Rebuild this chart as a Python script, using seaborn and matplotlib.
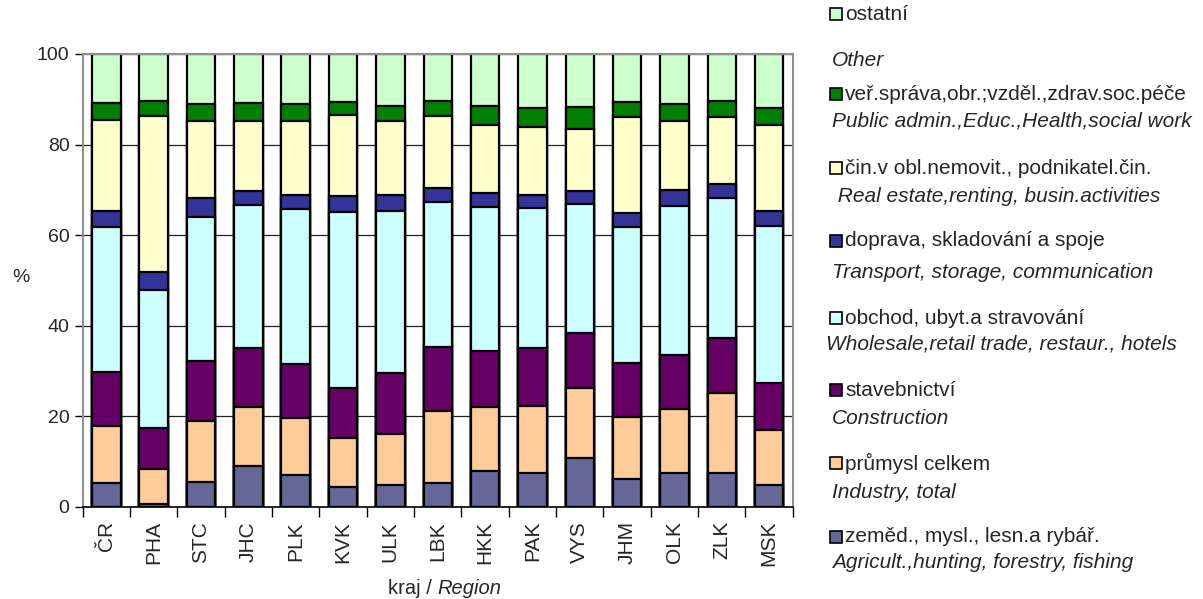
import numpy as np
import pandas as pd
import matplotlib
matplotlib.use('Agg')
import matplotlib.pyplot as plt
from matplotlib.patches import Rectangle
import seaborn as sns

regions = ['ČR', 'PHA', 'STC', 'JHC', 'PLK', 'KVK', 'ULK', 'LBK',
           'HKK', 'PAK', 'VYS', 'JHM', 'OLK', 'ZLK', 'MSK']

# podíly odvětví v % (zdola nahoru)
agric = [5.4, 0.6, 5.5, 9.0, 7.1, 4.4, 4.9, 5.2, 7.9, 7.5, 10.9, 6.1, 7.6, 7.5, 4.8]
industry = [12.5, 7.7, 13.4, 13.1, 12.6, 10.9, 11.3, 16.0, 14.2, 14.8, 15.3, 13.8, 14.0, 17.7, 12.3]
construction = [11.8, 9.2, 13.4, 12.9, 11.8, 11.0, 13.4, 14.2, 12.3, 12.7, 12.1, 11.8, 11.9, 12.0, 10.3]
trade = [32.2, 30.4, 31.6, 31.7, 34.2, 38.9, 35.8, 32.0, 31.9, 30.9, 28.5, 30.0, 33.0, 31.1, 34.7]
transport = [3.4, 4.0, 4.2, 3.1, 3.2, 3.5, 3.5, 3.1, 3.1, 3.0, 3.0, 3.1, 3.5, 3.0, 3.3]
realestate = [20.2, 34.3, 17.2, 15.3, 16.2, 17.9, 16.4, 15.7, 14.9, 14.9, 13.6, 21.2, 15.1, 14.7, 18.9]
public = [3.6, 3.3, 3.7, 4.0, 3.9, 2.8, 3.3, 3.3, 4.2, 4.2, 4.9, 3.4, 3.9, 3.5, 3.7]
other = [10.9, 10.5, 11.0, 10.9, 11.0, 10.6, 11.4, 10.5, 11.5, 12.0, 11.7, 10.6, 11.0, 10.5, 12.0]

series = [agric, industry, construction, trade, transport, realestate, public, other]
labels_cz = ['zeměd., mysl., lesn.a rybář.', 'průmysl celkem', 'stavebnictví',
             'obchod, ubyt.a stravování', 'doprava, skladování a spoje',
             'čin.v obl.nemovit., podnikatel.čin.',
             'veř.správa,obr.;vzděl.,zdrav.soc.péče', 'ostatní']
labels_en = ['Agricult.,hunting, forestry, fishing', 'Industry, total', 'Construction',
             'Wholesale,retail trade, restaur., hotels', 'Transport, storage, communication',
             ' Real estate,renting, busin.activities',
             'Public admin.,Educ.,Health,social work', 'Other']
colors = ['#666699', '#FFCC99', '#660066', '#CCFFFF', '#333399', '#FFFFCC', '#008000', '#CCFFCC']

sns.set_style('white')
plt.rcParams['font.family'] = ['Liberation Sans', 'DejaVu Sans']

fig = plt.figure(figsize=(12.03, 5.99), dpi=100)
ax = fig.add_axes([0.0687, 0.1536, 0.5903, 0.7564])

cum = np.cumsum(np.array(series), axis=0)
for i in range(len(series) - 1, -1, -1):
    df = pd.DataFrame({'kraj': regions, 'val': cum[i]})
    sns.barplot(data=df, x='kraj', y='val', color=colors[i], width=0.6,
                edgecolor='black', linewidth=1.6, saturation=1, ax=ax, zorder=2)

ax.set_ylim(0, 100)
ax.set_xlim(-0.5, 14.5)
ax.set_yticks([0, 20, 40, 60, 80, 100])
ax.yaxis.grid(True, color='#202020', linewidth=0.9, zorder=0)
ax.set_axisbelow(True)
ax.tick_params(axis='y', direction='out', length=6, width=1, color='black', labelsize=14, left=True)
ax.tick_params(axis='x', which='major', length=0, labelsize=15, labelrotation=90, pad=10)
ax.set_xticks(np.arange(-0.5, 15, 1), minor=True)
ax.tick_params(axis='x', which='minor', direction='out', length=7, width=1, color='black', bottom=True)
for s in ['top', 'right', 'left']:
    ax.spines[s].set_color('#909090')
    ax.spines[s].set_linewidth(1.5)
ax.spines['bottom'].set_color('black')
ax.spines['bottom'].set_linewidth(1.2)

ax.set_ylabel('')
ax.set_xlabel('')
fig.text(0.017, 0.537, '%', fontsize=14, ha='center', va='center')
fig.text(0.3637, 0.017, 'kraj / ', fontsize=14.5, ha='right', va='center')
fig.text(0.3637, 0.017, 'Region', fontsize=14.5, style='italic', ha='left', va='center')

# legenda vpravo
cz_y = [537, 463, 390, 318, 241, 168, 94, 14]
en_y = [563, 492, 418, 344, 273, 197, 121, 60]
en_x = [832, 832, 832, 826, 832, 832, 832, 832]
W, H = 1203, 599
for i in range(len(series)):
    fig.add_artist(Rectangle((830 / W, 1 - (cz_y[i] + 6) / H), 12 / W, 12 / H,
                             facecolor=colors[i], edgecolor='black', linewidth=1.2,
                             transform=fig.transFigure))
    fig.text(845 / W, 1 - cz_y[i] / H, labels_cz[i], fontsize=15, ha='left', va='center')
    fig.text(en_x[i] / W, 1 - en_y[i] / H, labels_en[i], fontsize=15, style='italic',
             ha='left', va='center')

fig.savefig('out.png', dpi=100)
